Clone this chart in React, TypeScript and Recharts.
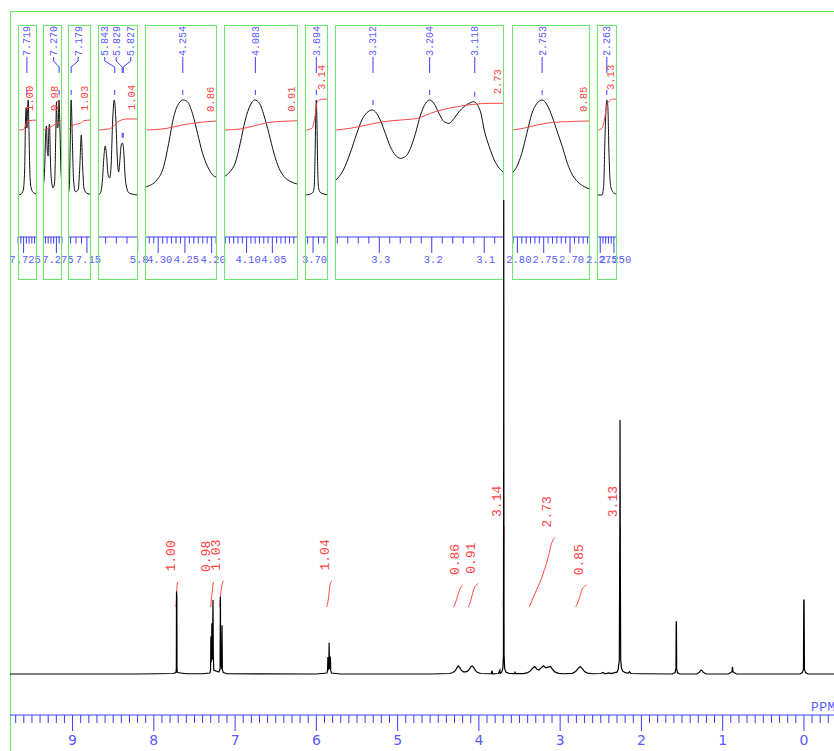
import { LineChart, Line, XAxis, YAxis, ReferenceDot } from 'recharts'

type Pt = [number, number]

const BLUE = '#3c3cff'
const BLUE_TEXT = '#5a5aff'
const RED = '#ff4646'
const GREEN = '#6ae86a'
const MONO = '"Liberation Mono", "DejaVu Sans Mono", monospace'

// main 1H spectrum: [ppm, intensity] (singlet at 3.694 = 100)
const spectrum: Pt[] = [
  [9.77, 0], [8.2, 0], [7.76, 0.1],
  [7.728, 0.3], [7.723, 1.2], [7.721, 17.4], [7.719, 10], [7.717, 16.8], [7.715, 1.2], [7.71, 0.3],
  [7.6, 0.05], [7.4, 0.05],
  [7.31, 0.2], [7.302, 0.8], [7.298, 7.9], [7.295, 2.5], [7.29, 4.5], [7.286, 10.7], [7.282, 3], [7.276, 9],
  [7.272, 15.6], [7.268, 4], [7.262, 0.8],
  [7.2, 0.4], [7.185, 1], [7.181, 16.3], [7.177, 2.5], [7.165, 1], [7.161, 10.3], [7.157, 1], [7.145, 0.3], [7.1, 0.05],
  [6.0, 0], [5.87, 0.2], [5.862, 0.8], [5.858, 3.6], [5.853, 1.0], [5.847, 1.2], [5.843, 6.6], [5.838, 1.2],
  [5.833, 1.2], [5.828, 3.7], [5.823, 0.8], [5.815, 0.2], [5.7, 0],
  [4.6, 0], [4.36, 0.1], [4.32, 0.3], [4.29, 0.7], [4.27, 1.35], [4.254, 1.7], [4.235, 1.35], [4.215, 0.75],
  [4.19, 0.45], [4.165, 0.45], [4.14, 0.6], [4.115, 1.1], [4.098, 1.55], [4.083, 1.7], [4.065, 1.4], [4.045, 0.8],
  [4.02, 0.35], [3.98, 0.1], [3.85, 0.05], [3.836, 0.7], [3.832, 0.05], [3.76, 0.1], [3.742, 0.8], [3.738, 0.1],
  [3.72, 0.4], [3.705, 1.2], [3.698, 4], [3.6955, 45], [3.694, 100], [3.6925, 45], [3.69, 4], [3.683, 1.2],
  [3.668, 0.4], [3.63, 0.15], [3.56, 0.1], [3.555, 0.5], [3.55, 0.1], [3.45, 0.1],
  [3.4, 0.3], [3.37, 0.6], [3.34, 1.2], [3.312, 1.55], [3.285, 1.0], [3.26, 0.85], [3.235, 1.3], [3.204, 1.75],
  [3.175, 1.3], [3.15, 1.45], [3.118, 1.6], [3.095, 1.0], [3.065, 0.45], [3.02, 0.15], [2.95, 0.05],
  [2.85, 0.15], [2.81, 0.5], [2.78, 1.15], [2.753, 1.55], [2.725, 1.1], [2.7, 0.5], [2.665, 0.2], [2.6, 0.05],
  [2.5, 0.1], [2.47, 0.35], [2.45, 0.05], [2.4, 0.25], [2.37, 0.1], [2.33, 0.3], [2.3, 0.4], [2.285, 1.0],
  [2.272, 3], [2.2655, 30], [2.263, 53.6], [2.2605, 30], [2.255, 3], [2.245, 1.2], [2.23, 0.6], [2.2, 0.3],
  [2.16, 0.2], [2.145, 0.5], [2.13, 0.1], [2.0, 0.05],
  [1.62, 0], [1.585, 0.3], [1.575, 1.2], [1.572, 11], [1.569, 11], [1.566, 1.2], [1.556, 0.3], [1.53, 0],
  [1.32, 0], [1.29, 0.3], [1.268, 0.8], [1.255, 0.75], [1.235, 0.3], [1.2, 0],
  [0.93, 0], [0.9, 0.3], [0.885, 0.5], [0.879, 1.5], [0.874, 0.5], [0.86, 0.3], [0.83, 0],
  [0.05, 0], [0.02, 0.3], [0.006, 1.0], [0.002, 15.6], [-0.002, 15.6], [-0.006, 1.0], [-0.02, 0.3], [-0.05, 0],
  [-0.37, 0],
]

// main integral curves: [ppm, cumulative area]
const int1: Pt[] = [[7.733, 0], [7.724, 0.15], [7.719, 0.55], [7.712, 0.9], [7.7, 1.0]]
const int2: Pt[] = [[7.3, 0], [7.292, 0.3], [7.283, 0.55], [7.275, 0.8], [7.268, 0.98]]
const int3: Pt[] = [[7.19, 0], [7.178, 0.5], [7.165, 0.8], [7.145, 1.03]]
const int4: Pt[] = [[5.875, 0], [5.855, 0.25], [5.842, 0.6], [5.83, 0.9], [5.805, 1.04]]
const int5: Pt[] = [[4.316, 0], [4.29, 0.15], [4.26, 0.45], [4.23, 0.72], [4.2, 0.86]]
const int6: Pt[] = [[4.131, 0], [4.105, 0.2], [4.08, 0.5], [4.05, 0.8], [4.008, 0.91]]
const int7: Pt[] = [[3.702, 0], [3.697, 0.4], [3.694, 1.8], [3.691, 2.9], [3.686, 3.14]]
const int8: Pt[] = [[3.38, 0], [3.31, 0.53], [3.269, 0.82], [3.208, 1.32], [3.146, 1.97], [3.105, 2.5], [3.064, 2.73]]
const int9: Pt[] = [[2.81, 0], [2.785, 0.15], [2.755, 0.45], [2.725, 0.72], [2.674, 0.85]]
const int10: Pt[] = [[2.272, 0], [2.267, 0.4], [2.263, 1.8], [2.26, 2.9], [2.255, 3.13]]
const integralCurves = [int1, int2, int3, int4, int5, int6, int7, int8, int9, int10]
const integralValues = ['1.00', '0.98', '1.03', '1.04', '0.86', '0.91', '3.14', '2.73', '0.85', '3.13']

const mainTicks = Array.from({ length: 101 }, (_, i) => (i - 3) / 10)

// expansions: spectrum [ppm, rel. intensity], integral [ppm, same units]
const box1Spec: Pt[] = [[7.7346, 0], [7.7294, 1], [7.7256, 5.3], [7.7231, 26.3], [7.7217, 73.7], [7.7204, 91.6], [7.719, 70.5], [7.7179, 87.4], [7.7167, 100], [7.7156, 78.9], [7.714, 31.6], [7.7121, 10.5], [7.7083, 3.2], [7.7012, 1]]
const box1Int: Pt[] = [[7.7346, 68.4], [7.725, 69.1], [7.7198, 75.5], [7.7154, 78.2], [7.7012, 78.9]]
const box2Spec: Pt[] = [[7.2988, 10.5], [7.2965, 26.3], [7.2946, 63.2], [7.293, 72.6], [7.2917, 47.4], [7.2901, 41], [7.2888, 68.4], [7.2875, 74.7], [7.2859, 36.8], [7.284, 15.8], [7.2811, 7.4], [7.2782, 13.7], [7.2763, 57.9], [7.2748, 97.9], [7.2733, 70.5], [7.2717, 72.6], [7.2702, 100], [7.2686, 70.5], [7.2667, 26.3], [7.2654, 13.7]]
const box2Int: Pt[] = [[7.2988, 68.4], [7.2892, 70.2], [7.2796, 73.7], [7.273, 75.5], [7.2654, 78.9]]
const box3Spec: Pt[] = [[7.1842, 1.8], [7.1823, 8.8], [7.1809, 47.4], [7.179, 100], [7.1771, 64.9], [7.1746, 15.8], [7.1713, 3.5], [7.1661, 5.3], [7.1631, 29.8], [7.1604, 63.2], [7.1579, 29.8], [7.1554, 7], [7.1502, 1.8], [7.1425, 0.7]]
const box3Int: Pt[] = [[7.1842, 68.4], [7.179, 71.3], [7.1746, 73.7], [7.1617, 75.5], [7.1554, 78.2], [7.1425, 78.9]]
const box4Spec: Pt[] = [[5.8743, 0], [5.8698, 2], [5.866, 15.8], [5.863, 42], [5.8608, 51.6], [5.8583, 42], [5.8554, 21], [5.8525, 17.9], [5.8497, 31.6], [5.8468, 79], [5.8439, 100], [5.841, 81], [5.838, 36.8], [5.8356, 24.2], [5.8333, 36.8], [5.8308, 52.6], [5.8285, 54.7], [5.826, 45.3], [5.8237, 21], [5.8205, 7.4], [5.816, 2.1], [5.7999, 0]]
const box4Int: Pt[] = [[5.8743, 68.4], [5.855, 69.5], [5.847, 71.5], [5.843, 74], [5.838, 76.5], [5.83, 79], [5.82, 80], [5.7994, 80]]
const box5Spec: Pt[] = [[4.324, 8.4], [4.3024, 15.8], [4.2898, 29.8], [4.2804, 54.4], [4.2709, 82.4], [4.2614, 96.5], [4.253, 100], [4.2454, 98.2], [4.236, 86], [4.2265, 65], [4.217, 43.9], [4.2075, 29.8], [4.198, 21], [4.19, 18.6]]
const box5Int: Pt[] = [[4.3213, 68.4], [4.2834, 70.2], [4.2549, 73.7], [4.2202, 76.5], [4.19, 77.9]]
const box6Spec: Pt[] = [[4.1433, 19.3], [4.1321, 24.6], [4.1223, 33.4], [4.1124, 54.4], [4.1026, 78.9], [4.0927, 94.7], [4.0843, 100], [4.075, 96.5], [4.0665, 84.2], [4.0567, 64.9], [4.0469, 43.9], [4.037, 28.1], [4.0272, 19.3], [4.014, 14], [4.0002, 11.3]]
const box6Int: Pt[] = [[4.1433, 68.4], [4.1124, 69.5], [4.0862, 72.6], [4.0598, 76.1], [4.0272, 77.6], [4.0002, 78.2]]
const box7Spec: Pt[] = [[3.7148, 0], [3.705, 1], [3.7, 3], [3.698, 8], [3.6965, 35], [3.695, 85], [3.694, 100], [3.693, 80], [3.6915, 30], [3.69, 8], [3.687, 3], [3.68, 1], [3.6725, 0]]
const box7Int: Pt[] = [[3.7129, 68.4], [3.7019, 70.2], [3.6956, 86], [3.6923, 98.2], [3.6827, 100.7], [3.6725, 101]]
const box8Spec: Pt[] = [[3.3838, 15.1], [3.3685, 26.3], [3.3556, 43.9], [3.3428, 64.9], [3.3332, 78.9], [3.3236, 86.6], [3.314, 89.5], [3.3077, 87.7], [3.2981, 78.9], [3.2885, 64.9], [3.2789, 50.8], [3.2694, 42.1], [3.2597, 38.6], [3.2502, 40.4], [3.2406, 49.1], [3.231, 64.9], [3.2214, 84.2], [3.2118, 96.5], [3.2036, 100], [3.1959, 96.5], [3.1863, 86], [3.1767, 77.2], [3.1671, 75.4], [3.1575, 80.7], [3.1479, 87.7], [3.1384, 93], [3.1288, 96.5], [3.1203, 98.2], [3.1127, 94.7], [3.1063, 86], [3.1, 68.4], [3.0904, 50.8], [3.0808, 36.8], [3.0712, 28.1], [3.0623, 23.5]]
const box8Int: Pt[] = [[3.3838, 68.4], [3.3556, 70.2], [3.3236, 73.7], [3.2918, 77.2], [3.2597, 78.9], [3.2277, 80.7], [3.2022, 86], [3.1767, 90.2], [3.151, 93], [3.1192, 95.5], [3.0872, 96.5], [3.0623, 96.5]]
const box9Spec: Pt[] = [[2.8102, 22.8], [2.8012, 29.8], [2.7916, 43.9], [2.782, 64.9], [2.7723, 86], [2.7627, 96.5], [2.7531, 100], [2.7435, 94.7], [2.7339, 82.4], [2.7243, 66.6], [2.7146, 50.8], [2.705, 33.4], [2.6954, 21], [2.6858, 14], [2.6731, 8.8], [2.6621, 6]]
const box9Int: Pt[] = [[2.8102, 68.4], [2.7885, 70.2], [2.7627, 73.7], [2.7371, 76.1], [2.705, 77.2], [2.6621, 77.9]]
const box10Spec: Pt[] = [[2.2803, 0], [2.2718, 0], [2.2688, 8.8], [2.2661, 64.9], [2.2642, 93], [2.263, 100], [2.2611, 93], [2.2592, 47.4], [2.2559, 8.8], [2.2495, 1.8], [2.2444, 0.7]]
const box10Int: Pt[] = [[2.2784, 68.4], [2.2718, 70.2], [2.2674, 78.9], [2.2636, 93], [2.2592, 98.2], [2.2526, 100.7], [2.2444, 101]]

// picked peaks per expansion: [ppm, height]
const box1Peaks: Pt[] = [[7.719, 100]]
const box2Peaks: Pt[] = [[7.27, 100]]
const box3Peaks: Pt[] = [[7.179, 100]]
const box4Peaks: Pt[] = [[5.843, 100], [5.829, 55], [5.827, 55]]
const box5Peaks: Pt[] = [[4.254, 100]]
const box6Peaks: Pt[] = [[4.083, 100]]
const box7Peaks: Pt[] = [[3.694, 100]]
const box8Peaks: Pt[] = [[3.312, 89.5], [3.204, 100], [3.118, 98.2]]
const box9Peaks: Pt[] = [[2.753, 100]]
const box10Peaks: Pt[] = [[2.263, 100]]

// label text shifted sideways from its peak (px)
const labelShift: Record<string, number> = { '7.270': -5.5, '7.179': 7, '5.843': -10, '5.829': -6, '5.827': 7.5 }

type Inset = {
  left: number; width: number; lo: number; hi: number
  step: number; anchor: number; majors: [number, string][]
  spec: Pt[]; integ: Pt[]; peaks: Pt[]; area: string
}

const insets: Inset[] = [
  { left: 18, width: 18, lo: 7.7006, hi: 7.7352, step: 0.005, anchor: 7.725, majors: [[7.725, '7.725']], spec: box1Spec, integ: box1Int, peaks: box1Peaks, area: '1.00' },
  { left: 43, width: 18, lo: 7.2648, hi: 7.2994, step: 0.005, anchor: 7.275, majors: [[7.275, '7.275']], spec: box2Spec, integ: box2Int, peaks: box2Peaks, area: '0.98' },
  { left: 68, width: 22, lo: 7.1425, hi: 7.1848, step: 0.01, anchor: 7.15, majors: [[7.15, '7.15']], spec: box3Spec, integ: box3Int, peaks: box3Peaks, area: '1.03' },
  { left: 98, width: 39, lo: 5.7994, hi: 5.8743, step: 0.02, anchor: 5.8, majors: [[5.8, '5.8']], spec: box4Spec, integ: box4Int, peaks: box4Peaks, area: '1.04' },
  { left: 145, width: 71, lo: 4.19, hi: 4.3247, step: 0.05 / 6, anchor: 4.3, majors: [[4.3, '4.30'], [4.25, '4.25'], [4.2, '4.20']], spec: box5Spec, integ: box5Int, peaks: box5Peaks, area: '0.86' },
  { left: 224, width: 73, lo: 4.0002, hi: 4.1439, step: 0.05 / 6, anchor: 4.1, majors: [[4.1, '4.10'], [4.05, '4.05']], spec: box6Spec, integ: box6Int, peaks: box6Peaks, area: '0.91' },
  { left: 305, width: 22, lo: 3.6725, hi: 3.7148, step: 0.01, anchor: 3.7, majors: [[3.7, '3.70']], spec: box7Spec, integ: box7Int, peaks: box7Peaks, area: '3.14' },
  { left: 335, width: 168, lo: 3.0623, hi: 3.3844, step: 0.02, anchor: 3.3, majors: [[3.3, '3.3'], [3.2, '3.2'], [3.1, '3.1']], spec: box8Spec, integ: box8Int, peaks: box8Peaks, area: '2.73' },
  { left: 512, width: 77, lo: 2.6621, hi: 2.8102, step: 0.05 / 6, anchor: 2.75, majors: [[2.8, '2.80'], [2.75, '2.75'], [2.7, '2.70']], spec: box9Spec, integ: box9Int, peaks: box9Peaks, area: '0.85' },
  { left: 597, width: 19, lo: 2.2444, hi: 2.2809, step: 0.005, anchor: 2.25, majors: [[2.275, '2.275'], [2.25, '2.250']], spec: box10Spec, integ: box10Int, peaks: box10Peaks, area: '3.13' },
]

const rows = (pts: Pt[]) => pts.map(([ppm, v]) => ({ ppm, v }))

function stepTicks(lo: number, hi: number, anchor: number, step: number) {
  const out: number[] = []
  const kMin = Math.ceil((lo - anchor) / step - 1e-6)
  const kMax = Math.floor((hi - anchor) / step + 1e-6)
  for (let k = kMin; k <= kMax; k++) out.push(+(anchor + k * step).toFixed(5))
  return out
}

function MainTick(props: any) {
  const { x, y, payload } = props
  const v = payload.value
  const major = Number.isInteger(v)
  return (
    <g>
      <line x1={x} x2={x} y1={y} y2={y + (major ? 16 : 8)} stroke={BLUE} strokeWidth={1} />
      {major && (
        <text x={x} y={y + 29.5} textAnchor="middle" fontSize={14} fontFamily='"DejaVu Sans", sans-serif' fill={BLUE_TEXT}>
          {v}
        </text>
      )}
    </g>
  )
}

function InsetTick(props: any) {
  const { x, y, payload, majors } = props
  const m = (majors as [number, string][]).find((t) => Math.abs(t[0] - payload.value) < 1e-4)
  return (
    <g>
      <line x1={x} x2={x} y1={y} y2={y + (m ? 16 : 6.5)} stroke={BLUE} strokeWidth={1} />
      {m && (
        <text x={x + 1.5} y={y + 26} textAnchor="middle" fontSize={10.5} fontFamily={MONO} fill={BLUE_TEXT}>
          {m[1]}
        </text>
      )}
    </g>
  )
}

function InsetChart({ box }: { box: Inset }) {
  const ticks = stepTicks(box.lo, box.hi, box.anchor, box.step)
  const last = box.integ[box.integ.length - 1]
  return (
    <div className="inset" style={{ position: 'absolute', left: box.left, top: 25, width: box.width + 1, height: 255 }}>
      <LineChart width={box.width + 1} height={254} margin={{ top: 0, right: 0, bottom: 0, left: 0 }}>
        <XAxis
          dataKey="ppm" type="number" domain={[box.lo, box.hi]} reversed allowDataOverflow
          ticks={ticks} interval={0} tickLine={false} tickSize={0} tickMargin={0}
          tick={(p: any) => <InsetTick {...p} majors={box.majors} />}
          axisLine={{ stroke: BLUE }} height={42}
        />
        <YAxis hide domain={[-44.2, 178.9]} allowDataOverflow />
        <Line data={rows(box.spec)} dataKey="v" type="monotone" stroke="#111" strokeWidth={1} dot={false} isAnimationActive={false} />
        <Line data={rows(box.integ)} dataKey="v" type="monotone" stroke={RED} strokeWidth={1} dot={false} isAnimationActive={false} />
        {box.peaks.map(([ppm, h]) => {
          const label = ppm.toFixed(3)
          const dx = labelShift[label] ?? 0
          return (
            <ReferenceDot
              key={label} x={ppm} y={h} ifOverflow="visible"
              shape={(p: any) => {
                const tx = p.cx + dx
                return (
                  <g>
                    <line x1={p.cx} x2={p.cx} y1={p.cy - 10} y2={p.cy - 5} stroke={BLUE} />
                    <polyline points={`${tx},32 ${tx},36 ${p.cx},42 ${p.cx},48`} fill="none" stroke={BLUE} />
                    <text transform={`translate(${tx + 3.5},31) rotate(-90)`} fontSize={10} fontFamily={MONO} fill={BLUE_TEXT}>
                      {label}
                    </text>
                  </g>
                )
              }}
            />
          )
        })}
        <ReferenceDot
          x={last[0]} y={last[1]} ifOverflow="visible"
          shape={(p: any) => (
            <text transform={`translate(${p.cx - 3.5},${p.cy - 9}) rotate(-90)`} fontSize={10.5} fontFamily={MONO} fill={RED}>
              {box.area}
            </text>
          )}
        />
      </LineChart>
      <div style={{ position: 'absolute', left: 0, top: 0, right: 0, bottom: 0, border: `1px solid ${GREEN}`, boxSizing: 'border-box' }} />
    </div>
  )
}

export default function App() {
  return (
    <div style={{ position: 'absolute', left: 0, top: 0, width: 834, height: 751, overflow: 'hidden', background: '#fff' }}>
      <style>{'.inset svg{overflow:visible}'}</style>
      <div style={{ position: 'absolute', left: 10, top: 11, width: 900, height: 800, borderLeft: `1px solid ${GREEN}`, borderTop: `1px solid ${GREEN}` }} />
      {insets.map((b) => (
        <InsetChart key={b.left} box={b} />
      ))}
      <div style={{ position: 'absolute', left: 0, top: 0 }}>
        <LineChart width={834} height={751} margin={{ top: 200, right: 0, bottom: 0, left: 10 }}>
          <XAxis
            dataKey="ppm" type="number" domain={[-0.37, 9.77]} reversed allowDataOverflow
            ticks={mainTicks} interval={0} tickLine={false} tickSize={0} tickMargin={0}
            tick={MainTick} axisLine={{ stroke: BLUE }} height={36}
          />
          <YAxis yAxisId="spec" hide domain={[-8.65, 100]} allowDataOverflow />
          <YAxis yAxisId="int" hide domain={[-4.235, 15.96]} allowDataOverflow />
          {integralCurves.map((c, i) => (
            <Line key={i} yAxisId="int" data={rows(c)} dataKey="v" type="monotone" stroke={RED} strokeWidth={1} dot={false} isAnimationActive={false} />
          ))}
          <Line yAxisId="spec" data={rows(spectrum)} dataKey="v" type="linear" stroke="#000" strokeWidth={1.2} dot={false} isAnimationActive={false} />
          {integralCurves.map((c, i) => {
            const end = c[c.length - 1]
            return (
              <ReferenceDot
                key={'l' + i} yAxisId="int" x={end[0]} y={end[1]} ifOverflow="visible"
                shape={(p: any) => (
                  <text transform={`translate(${p.cx - 3.5},${p.cy - 10}) rotate(-90)`} fontSize={13} fontFamily={MONO} fill={RED}>
                    {integralValues[i]}
                  </text>
                )}
              />
            )
          })}
        </LineChart>
      </div>
      <div style={{ position: 'absolute', left: 811, top: 701, fontFamily: MONO, fontSize: 13, lineHeight: '13px', letterSpacing: 0.5, color: BLUE_TEXT, whiteSpace: 'nowrap' }}>
        PPM
      </div>
    </div>
  )
}
